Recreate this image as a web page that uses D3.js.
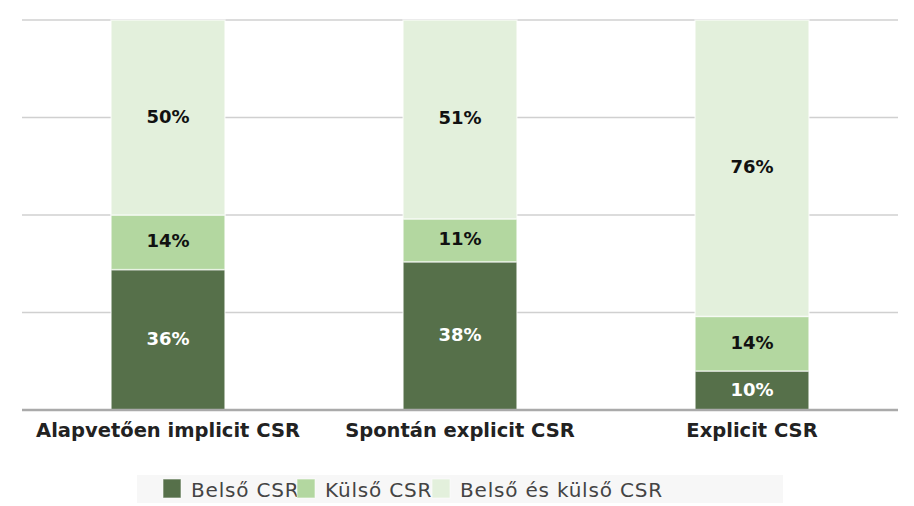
<!DOCTYPE html>
<html><head><meta charset="utf-8">
<script src="https://cdn.jsdelivr.net/npm/d3@7"></script>
<style>body{margin:0;background:#fff;font-family:"DejaVu Sans",sans-serif;}</style>
</head><body><svg id="c" width="914" height="506"></svg>
<script>
// chart data
const categories = ["Alapvetően implicit CSR", "Spontán explicit CSR", "Explicit CSR"];
const seriesNames = ["Belső CSR", "Külső CSR", "Belső és külső CSR"];
const belso = [36, 38, 10];
const kulso = [14, 11, 14];
const mindketto = [50, 51, 76];
const colors = ["#56704a", "#b3d7a0", "#e3f0dc"];
const labelColors = ["#ffffff", "#111111", "#111111"];

const svg = d3.select("#c");
const margin = {top: 20, right: 16, bottom: 96, left: 22};
const width = 914, height = 506;

const rows = categories.map((c, i) => ({cat: c, "Belső CSR": belso[i], "Külső CSR": kulso[i], "Belső és külső CSR": mindketto[i]}));
const stacked = d3.stack().keys(seriesNames)(rows);

const x = d3.scaleBand().domain(categories).range([margin.left, width - margin.right]).paddingInner(0.61).paddingOuter(0.305);
const y = d3.scaleLinear().domain([0, 100]).range([height - margin.bottom, margin.top]);

// gridlines
svg.append("g").selectAll("line").data([25, 50, 75, 100]).join("line")
  .attr("x1", margin.left).attr("x2", width - margin.right)
  .attr("y1", d => y(d)).attr("y2", d => y(d))
  .attr("stroke", "#d0d0d0").attr("stroke-width", 1.5);

// bars
stacked.forEach((s, si) => {
  const g = svg.append("g");
  g.selectAll("rect").data(s).join("rect")
    .attr("x", d => x(d.data.cat)).attr("width", x.bandwidth())
    .attr("y", d => y(d[1])).attr("height", d => y(d[0]) - y(d[1]))
    .attr("fill", colors[si]).attr("stroke", "#ffffff").attr("stroke-width", 1.5).attr("stroke-opacity", 0.6);
  g.selectAll("text").data(s).join("text")
    .attr("x", d => x(d.data.cat) + x.bandwidth() / 2)
    .attr("y", d => (y(d[0]) + y(d[1])) / 2 + 5)
    .attr("text-anchor", "middle").attr("font-size", 18).attr("font-weight", "bold")
    .attr("fill", labelColors[si])
    .text(d => (d[1] - d[0]) + "%");
});

// x axis
const xa = svg.append("g").attr("transform", `translate(0,${y(0)})`)
  .call(d3.axisBottom(x).tickSize(0).tickSizeOuter(0));
xa.select(".domain").attr("stroke", "#aaaaaa").attr("stroke-width", 2.5)
  .attr("d", `M${margin.left},0H${width - margin.right}`);
xa.selectAll("text").attr("dy", 24).attr("font-size", 19.5).attr("font-weight", "bold")
  .attr("fill", "#222").attr("font-family", '"DejaVu Sans",sans-serif');

// legend
const leg = svg.append("g");
leg.append("rect").attr("x", 137).attr("y", 475).attr("width", 646).attr("height", 28).attr("fill", "#f7f7f7");
const legX = [163, 297, 432];
seriesNames.forEach((n, i) => {
  leg.append("rect").attr("x", legX[i]).attr("y", 479).attr("width", 18).attr("height", 19)
    .attr("fill", colors[i]).attr("stroke", "#fff").attr("stroke-opacity", 0.6);
  leg.append("text").attr("x", legX[i] + 28).attr("y", 497).attr("font-size", 20)
    .attr("letter-spacing", 0.8).attr("fill", "#444").text(n);
});
</script></body></html>
